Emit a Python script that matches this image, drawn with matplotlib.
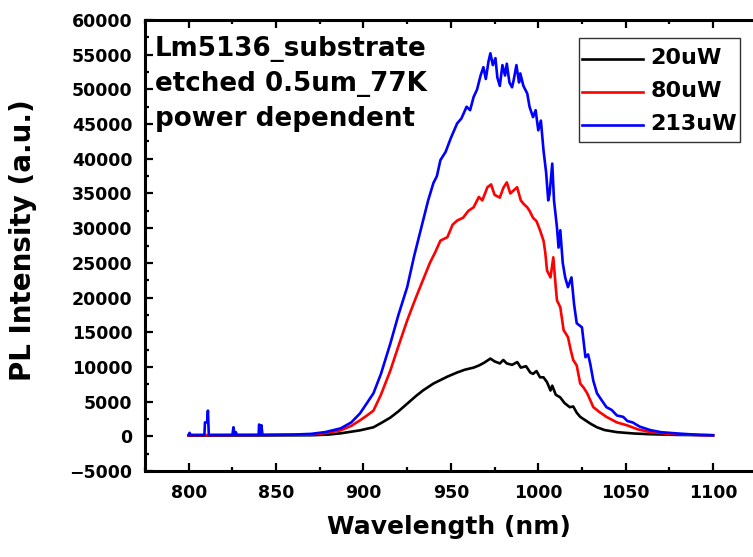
import matplotlib
matplotlib.use("Agg")
import numpy as np
import matplotlib.pyplot as plt
from matplotlib.ticker import MultipleLocator

plt.rcParams['font.family'] = ['DejaVu Sans']
plt.rcParams['font.weight'] = 'bold'

# ---- data (wavelength nm, PL intensity a.u.) ----
wl_213 = [800, 800.5, 801, 809, 809.3, 810.5, 811, 811.5, 825, 825.6, 826.3, 827, 827.5,
          840, 840.3, 841, 841.6, 842.2, 860, 870, 878, 887, 893, 898, 902, 905.7, 910,
          915.4, 920, 925, 929, 932, 934, 937, 940, 942, 944, 947, 950, 953.6, 956, 959,
          961, 963, 965, 967, 968.6, 970, 971.5, 972.6, 974, 975.5, 976.6, 978, 979.5,
          981, 982, 983.5, 985, 985.9, 987.5, 989, 989.7, 991.5, 993.7, 995, 997, 998.5,
          1000, 1001.5, 1003, 1004.5, 1005.7, 1006.5, 1008, 1009, 1010.7, 1011.6, 1012.6,
          1014, 1015.4, 1017, 1019, 1020.5, 1022, 1025, 1027, 1028.5, 1029.7, 1031.5,
          1033.6, 1036, 1039, 1042, 1045, 1048.6, 1051, 1054, 1058, 1064, 1070, 1080,
          1092.6, 1100]
pl_213 = [200, 500, 200, 200, 2000, 2000, 3700, 200, 200, 1300, 200, 600, 200,
          200, 1700, 200, 1600, 200, 250, 350, 600, 1150, 2000, 3300, 4800, 6200, 9000,
          13400, 17500, 21500, 26000, 29000, 31000, 34000, 36500, 37500, 39800, 41000,
          43000, 45100, 45800, 47500, 47000, 48900, 50000, 52000, 53200, 51500, 54000,
          55200, 53500, 54500, 51700, 50500, 53500, 52000, 53700, 51000, 50300, 51300,
          53500, 51000, 52300, 50500, 49400, 47500, 46000, 47000, 44100, 45500, 41200,
          38000, 34000, 35000, 39300, 34000, 30100, 27200, 29700, 25000, 22900, 21500,
          22900, 19000, 16300, 15700, 11400, 11800, 10500, 8000, 6200, 5300, 4200, 3800,
          3000, 2800, 2200, 2000, 1400, 900, 600, 400, 200, 150]

wl_80 = [800, 870, 878, 887, 893, 898, 902, 905.7, 910, 915.4, 920, 925, 930, 934, 938,
         941, 944, 948, 951, 953.6, 957, 960, 963, 966, 968, 970.9, 973, 975, 978, 980,
         982, 984, 985.7, 987.9, 990, 991.6, 993.7, 995, 997, 999, 1001, 1003, 1004,
         1005, 1007, 1008.6, 1010, 1010.7, 1012.6, 1014.5, 1017, 1018.5, 1020, 1022,
         1024, 1026, 1028, 1031.5, 1035, 1039, 1045, 1050.6, 1057, 1064, 1075, 1090, 1100]
pl_80 = [150, 250, 450, 860, 1500, 2300, 3000, 3700, 6000, 9500, 13000, 16700, 20000,
         22500, 25000, 26500, 28200, 28700, 30500, 31100, 31500, 32500, 33000, 34500,
         34000, 35900, 36300, 34800, 34400, 35800, 36600, 35000, 35400, 35900, 34000,
         33500, 33000, 32500, 31500, 31000, 29700, 28200, 26500, 23900, 22900, 25800,
         21500, 19600, 18600, 15300, 14300, 12500, 11000, 10200, 7600, 7000, 6200, 4200,
         3500, 2800, 2000, 1600, 1000, 600, 350, 200, 150]

wl_20 = [800, 870, 880, 887, 898, 905.7, 910, 915.4, 920, 925, 930, 934, 940, 944, 948,
         953.6, 958, 963, 966, 969, 972.6, 975, 978, 980, 982, 985, 988, 990, 993, 995.4,
         997, 999, 1001, 1003, 1005, 1007, 1008, 1010, 1012.6, 1015, 1018, 1020, 1022,
         1024, 1027, 1030, 1033.6, 1038, 1045, 1055, 1064, 1080, 1100]
pl_20 = [100, 150, 250, 430, 860, 1300, 1900, 2700, 3600, 4700, 5800, 6600, 7600, 8100,
         8600, 9200, 9600, 9900, 10200, 10600, 11200, 10800, 10500, 11000, 10500, 10300,
         10700, 9900, 10100, 9200, 9000, 9400, 8500, 8500, 7800, 6600, 7300, 6000, 5600,
         4800, 4200, 4300, 3400, 2800, 2300, 1800, 1300, 900, 600, 400, 300, 200, 150]

labels = ['20uW', '80uW', '213uW']
colors = ['black', 'red', 'blue']
xticks = [800, 850, 900, 950, 1000, 1050, 1100]
yticks = list(range(-5000, 60001, 5000))

fig = plt.figure(figsize=(7.53, 5.57), dpi=100)
ax = fig.add_axes([145/753, 1-471/557, (756.75-145)/753, (471-20)/557])

for wl, pl, lab, c in zip([wl_20, wl_80, wl_213], [pl_20, pl_80, pl_213], labels, colors):
    ax.plot(wl, pl, color=c, lw=1.9, label=lab)

ax.set_xlim(775, 1125)
ax.set_ylim(-5000, 60000)
ax.set_xticks(xticks)
ax.set_yticks(yticks)
ax.xaxis.set_minor_locator(MultipleLocator(25))
ax.yaxis.set_minor_locator(MultipleLocator(2500))

for s in ['left', 'bottom', 'top']:
    ax.spines[s].set_linewidth(2.2)
ax.spines['right'].set_visible(False)

ax.tick_params(which='both', direction='in', top=True, right=False, width=1.6)
ax.tick_params(which='major', length=6, labelsize=12.5)
ax.tick_params(which='minor', length=3)
ax.tick_params(axis='y', pad=9)
ax.tick_params(axis='x', pad=9)
for t in ax.get_xticklabels() + ax.get_yticklabels():
    t.set_fontweight('bold')

ax.set_xlabel('Wavelength (nm)', fontsize=18, fontweight='bold')
ax.xaxis.set_label_coords(0.497, -0.097)
ax.set_ylabel('PL Intensity (a.u.)', fontsize=20, fontweight='bold')
ax.yaxis.set_label_coords(-0.199, 0.512)
ax.yaxis.label.set_va('center')

ax.text(0.016, 0.9645, 'Lm5136_substrate\netched 0.5um_77K\npower dependent',
        transform=ax.transAxes, va='top', ha='left', fontsize=18.8, fontweight='bold',
        linespacing=1.45)

leg = ax.legend(loc='upper right', bbox_to_anchor=(740/753, 1-38/557),
                bbox_transform=fig.transFigure, fontsize=16, frameon=True,
                fancybox=False, edgecolor='black', handlelength=2.75, handleheight=1.91,
                handletextpad=0.36, labelspacing=0.0, borderpad=0.12, borderaxespad=0)
leg.get_frame().set_linewidth(1.0)
for t in leg.get_texts():
    t.set_fontweight('bold')
# centre the handle lines on the label text
for ln in leg.get_lines():
    ln.set_ydata(np.asarray(ln.get_ydata(), dtype=float) - 5.0)

fig.savefig('out.png', dpi=100)
